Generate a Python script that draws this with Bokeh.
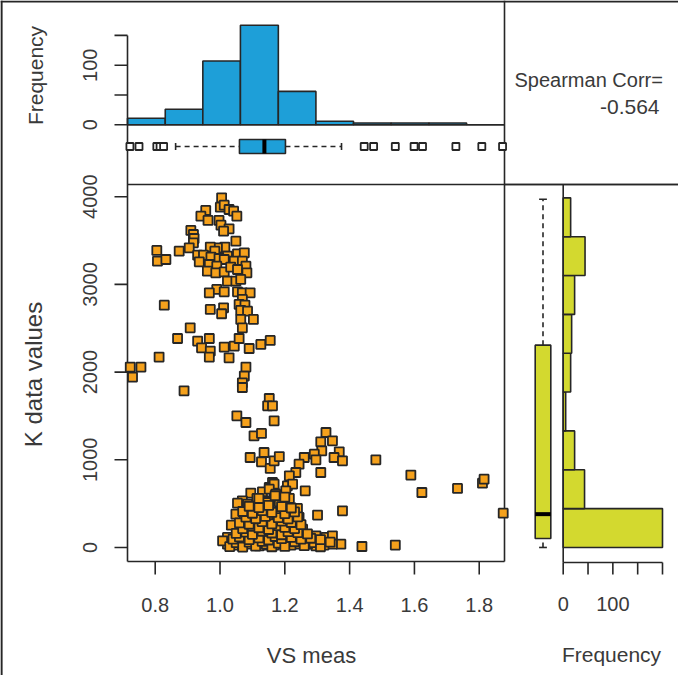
import math
from bokeh.plotting import figure
from bokeh.models import Range1d
from bokeh.embed import file_html
from bokeh.resources import INLINE
from bokeh.core.properties import value

# ---------------- data ----------------
# upper cluster of the scatter
vs_upper = [1.005, 1.001, 1.013, 1.028, 1.042, 1.052, 0.956, 0.941, 0.963, 0.997,
            1.003, 1.028, 1.011, 0.910, 0.918, 0.920, 0.918, 0.905, 1.049, 1.015,
            0.992, 0.970, 0.805, 0.807, 0.833, 0.874, 0.931, 0.949, 0.936, 0.984,
            1.023, 1.054, 1.075, 0.972, 0.997, 1.013, 1.044, 1.069, 1.080, 0.967,
            0.990, 0.961, 0.987, 1.013, 1.033, 1.054, 1.083, 1.023, 1.049, 1.064,
            0.990, 0.967, 1.013, 1.054, 1.069, 1.093, 1.069, 1.059, 1.077, 0.828,
            0.970, 1.011, 1.005, 1.064, 1.085, 1.064, 1.103, 1.069, 0.908, 0.869,
            0.931, 0.967, 0.943, 0.970, 0.967, 1.013, 1.044, 1.059, 1.090, 1.126,
            1.155, 1.028, 0.812, 0.723, 0.756, 0.730, 1.080, 1.075, 1.069]
k_upper = [3987, 3881, 3903, 3854, 3835, 3778, 3843, 3778, 3729, 3729,
           3675, 3634, 3607, 3615, 3569, 3523, 3474, 3417, 3493, 3425,
           3417, 3425, 3387, 3265, 3284, 3379, 3333, 3333, 3257, 3379,
           3322, 3349, 3360, 3311, 3295, 3284, 3265, 3265, 3208, 3227,
           3208, 3151, 3132, 3143, 3197, 3170, 3132, 3037, 3037, 3056,
           2942, 2904, 2915, 2915, 2904, 2904, 2828, 2771, 2763, 2763,
           2714, 2733, 2665, 2703, 2695, 2600, 2600, 2505, 2505, 2383,
           2353, 2383, 2277, 2239, 2171, 2285, 2296, 2383, 2269, 2315,
           2361, 2163, 2171, 2057, 2057, 1943, 2057, 1954, 1878]

# middle / rising arm
vs_mid = [1.069, 0.889, 1.152, 1.147, 1.162, 1.052, 1.080, 1.167, 1.105, 1.128,
          1.093, 1.136, 1.128, 1.155, 1.167, 1.327, 1.311, 1.347, 1.314, 1.183,
          1.368, 1.352, 1.378, 1.291, 1.260, 1.296, 1.244, 1.234, 1.311, 1.214,
          1.162, 1.152]
k_mid = [1824, 1786, 1699, 1615, 1615, 1501, 1425, 1444, 1273, 1300,
         1026, 1083, 977, 901, 988, 1311, 1205, 1216, 1102, 1037,
         1091, 1026, 988, 1064, 1026, 999, 950, 855, 855, 817,
         741, 684]

# right tail
vs_tail = [1.481, 1.589, 1.623, 1.733, 1.810, 1.815, 1.874, 1.438, 1.541]
k_tail = [999, 825, 627, 673, 733, 779, 391, 11, 27]

# lower dense cluster
vs_lower = [1.131, 1.095, 1.069, 1.054, 1.114, 1.136, 1.167, 1.049, 1.075, 1.035,
            1.111, 1.141, 1.167, 1.126, 1.105, 1.147, 1.172, 1.023, 1.023, 1.044,
            1.069, 1.095, 1.121, 1.147, 1.167, 1.080, 1.111, 1.136, 1.157, 1.090,
            1.121, 1.162, 1.008, 1.064, 1.085, 1.121, 1.152,
            1.208, 1.167, 1.224, 1.203, 1.263, 1.152, 1.172, 1.147, 1.183, 1.214,
            1.239, 1.203, 1.219, 1.244, 1.172, 1.301, 1.378, 1.147, 1.193, 1.229,
            1.162, 1.255, 1.142, 1.177, 1.214, 1.265, 1.296, 1.327, 1.347, 1.373,
            1.347, 1.321, 1.296, 1.270, 1.244, 1.219, 1.193, 1.167, 1.143, 1.280,
            1.152, 1.234]
k_lower = [635, 620, 532, 505, 559, 532, 627, 380, 323, 254,
           418, 437, 399, 323, 266, 247, 266, 114, 38, 27,
           19, 38, 19, 27, 38, 114, 133, 152, 171, 209,
           209, 323, 76, 209, 494, 494, 494,
           703, 722, 722, 646, 646, 665, 608, 513, 521, 559,
           445, 380, 399, 342, 380, 369, 418, 323, 266, 285,
           228, 209, 171, 152, 133, 141, 133, 114, 133, 38,
           38, 27, 19, 38, 38, 27, 38, 27, 38, 76,
           95, 76]

vs_dense = [1.03, 1.05, 1.07, 1.09, 1.11, 1.13, 1.16, 1.18, 1.20, 1.23, 1.26, 1.29, 1.31, 1.34,
            1.04, 1.06, 1.09, 1.12, 1.15, 1.17, 1.19, 1.22, 1.25, 1.28, 1.31,
            1.05, 1.08, 1.10, 1.13, 1.16, 1.19, 1.21, 1.24, 1.27,
            1.07, 1.10, 1.12, 1.15, 1.18, 1.20, 1.23,
            1.06, 1.09, 1.13, 1.16, 1.19, 1.22, 1.25,
            1.08, 1.11, 1.14, 1.18, 1.21, 1.24,
            1.07, 1.10, 1.13, 1.16, 1.20, 1.23,
            1.09, 1.12, 1.15, 1.19, 1.22,
            1.12, 1.17, 1.20]
k_dense = [10, 55, 5, 60, 15, 70, 8, 50, 12, 65, 20, 55, 8, 60,
           95, 120, 90, 110, 85, 125, 100, 115, 95, 105, 90,
           160, 175, 150, 185, 165, 145, 180, 170, 155,
           215, 240, 225, 205, 250, 230, 215,
           280, 265, 295, 270, 300, 285, 260,
           345, 330, 355, 340, 325, 350,
           410, 390, 420, 400, 385, 405,
           470, 455, 480, 465, 450,
           560, 590, 575]

# histogram of VS meas (top)
vs_hist_edges = [0.7145, 0.831, 0.947, 1.063, 1.180, 1.296, 1.412, 1.528, 1.645, 1.761, 1.878]
vs_hist_counts = [11, 26, 107, 167, 56, 6, 3, 3, 3, 0]

# histogram of K (right)
k_hist_edges = [0, 443, 886, 1329, 1772, 2215, 2658, 3101, 3544, 3987]
k_hist_counts = [200, 43, 23, 5, 15, 17, 23, 44, 15]

# boxplot stats
vs_box = {"lo": 0.863, "q1": 1.060, "med": 1.137, "q3": 1.202, "hi": 1.375}
vs_outliers = [0.722, 0.750, 0.805, 0.815, 0.826, 1.445, 1.474, 1.541,
               1.599, 1.625, 1.728, 1.808, 1.872]
k_box = {"lo": 0, "q1": 103, "med": 380, "q3": 2307, "hi": 3971}

x_ticks = [0.8, 1.0, 1.2, 1.4, 1.6, 1.8]
x_tick_labels = ["0.8", "1.0", "1.2", "1.4", "1.6", "1.8"]
y_ticks = [0, 1000, 2000, 3000, 4000]
y_tick_labels = ["0", "1000", "2000", "3000", "4000"]
top_freq_ticks = [0, 50, 100, 150]
top_freq_label_at = [0, 100]
right_freq_ticks = [0, 50, 100, 150, 200]
right_freq_label_at = [0, 100]
spearman = -0.564

# ---------------- styles ----------------
LINE = "#262626"
TXT = "#3a3a3a"
BLUE = "#1e9fd8"
YELLOW = "#d3d92f"
ORANGE = "#f5a11c"
FONT = value("Liberation Sans")
LW = 1.6

W, H = 678, 675
X0, Y0 = 8, 8


def lin_range(va, pa, vb, pb, p_start, p_end):
    s = (vb - va) / (pb - pa)
    return Range1d(start=va + (p_start - pa) * s, end=va + (p_end - pa) * s)


def xr(va, pa, vb, pb):
    return lin_range(va, pa, vb, pb, X0, X0 + W)


def yr(va, pa, vb, pb):
    return lin_range(va, pa, vb, pb, Y0 + H, Y0)


p = figure(width=W, height=H, x_range=Range1d(X0, X0 + W), y_range=Range1d(Y0 + H, Y0),
           x_axis_type=None, y_axis_type=None, output_backend="svg",
           toolbar_location=None, min_border=0)
p.outline_line_color = None
p.background_fill_color = "white"
p.border_fill_color = "white"

# panel geometry (pixels)
SC_L, SC_R, SC_T, SC_B = 135, 512, 192, 569
VS_LIM = (0.7145, 1.878)
K_LIM = (-160, 4139)

p.extra_x_ranges = {
    "vs": xr(VS_LIM[0], SC_L, VS_LIM[1], SC_R),
    "rf": xr(0, 570.7, 200, 670),
    "rb": xr(0.6, 542.7, 1.4, 558.3),
}
p.extra_y_ranges = {
    "k": yr(K_LIM[0], SC_B, K_LIM[1], SC_T),
    "tf": yr(0, 132.3, 100, 72.7),
    "tb": yr(0.6, 161, 1.4, 147),
}

# ---------------- frame lines ----------------
p.segment(x0=[9, 8], y0=[8, 9], x1=[9, 686], y1=[683, 9], line_color=LINE, line_width=2.2)
p.segment(x0=[SC_L, SC_L, SC_L, SC_R, 512, 570.7, SC_L],
          y0=[SC_T, SC_B, 132.3, 8, SC_T, SC_T, 132.3],
          x1=[686, SC_R, SC_L, SC_R, 686, 570.7, SC_R],
          y1=[SC_T, SC_B, SC_B, SC_B, SC_T, 570, 132.3],
          line_color=LINE, line_width=LW)

# ---------------- top histogram ----------------
p.quad(left=vs_hist_edges[:-1], right=vs_hist_edges[1:], bottom=0, top=vs_hist_counts,
       x_range_name="vs", y_range_name="tf", fill_color=BLUE, line_color=LINE, line_width=LW)
p.segment(x0=[SC_L], x1=[SC_L], y0=[0], y1=[150], y_range_name="tf",
          line_color=LINE, line_width=LW)
p.segment(x0=122, x1=SC_L, y0=top_freq_ticks, y1=top_freq_ticks, y_range_name="tf",
          line_color=LINE, line_width=LW)
p.text(x=97, y=top_freq_label_at, text=[str(v) for v in top_freq_label_at], y_range_name="tf",
       angle=math.pi / 2, text_align="center", text_baseline="middle",
       text_font=FONT, text_font_size=value("20px"), text_color=TXT)
p.text(x=[43], y=[83], text=["Frequency"], angle=math.pi / 2, text_align="center",
       text_baseline="middle", text_font=FONT, text_font_size=value("21px"), text_color=TXT)

# ---------------- top boxplot ----------------
p.segment(x0=[vs_box["lo"], vs_box["q3"]], x1=[vs_box["q1"], vs_box["hi"]], y0=1, y1=1,
          x_range_name="vs", y_range_name="tb", line_color=LINE, line_width=LW, line_dash="5 4")
p.segment(x0=[vs_box["lo"], vs_box["hi"]], x1=[vs_box["lo"], vs_box["hi"]], y0=0.8, y1=1.2,
          x_range_name="vs", y_range_name="tb", line_color=LINE, line_width=LW)
p.quad(left=[vs_box["q1"]], right=[vs_box["q3"]], bottom=0.6, top=1.4,
       x_range_name="vs", y_range_name="tb", fill_color=BLUE, line_color=LINE, line_width=LW)
p.segment(x0=[vs_box["med"]], x1=[vs_box["med"]], y0=0.6, y1=1.4,
          x_range_name="vs", y_range_name="tb", line_color="black", line_width=4)
p.scatter(x=vs_outliers, y=[1] * len(vs_outliers), marker="square", size=7,
          x_range_name="vs", y_range_name="tb", fill_color="white", line_color=LINE, line_width=1.8)

# ---------------- scatter ----------------
for xs, ys in [(vs_upper, k_upper), (vs_mid, k_mid), (vs_tail, k_tail),
               (vs_lower, k_lower), (vs_dense, k_dense)]:
    p.scatter(x=xs, y=ys, marker="square", size=9, x_range_name="vs", y_range_name="k",
              fill_color=ORANGE, line_color=LINE, line_width=1.8)

p.segment(x0=x_ticks, x1=x_ticks, y0=SC_B, y1=SC_B + 13, x_range_name="vs",
          line_color=LINE, line_width=LW)
p.text(x=x_ticks, y=612, text=x_tick_labels, x_range_name="vs", text_align="center",
       text_baseline="middle", text_font=FONT, text_font_size=value("20px"), text_color=TXT)
p.segment(x0=122, x1=SC_L, y0=y_ticks, y1=y_ticks, y_range_name="k",
          line_color=LINE, line_width=LW)
p.text(x=97, y=y_ticks, text=y_tick_labels, y_range_name="k", angle=math.pi / 2,
       text_align="center", text_baseline="middle", text_font=FONT,
       text_font_size=value("20px"), text_color=TXT)
p.text(x=[41], y=[382], text=["K data values"], angle=math.pi / 2, text_align="center",
       text_baseline="middle", text_font=FONT, text_font_size=value("24px"), text_color=TXT)
p.text(x=[319], y=[663], text=["VS meas"], text_align="center", text_baseline="middle",
       text_font=FONT, text_font_size=value("22px"), text_color=TXT)

# ---------------- right boxplot ----------------
p.segment(x0=1, x1=1, y0=[k_box["lo"], k_box["q3"]], y1=[k_box["q1"], k_box["hi"]],
          x_range_name="rb", y_range_name="k", line_color=LINE, line_width=LW, line_dash="5 4")
p.segment(x0=0.8, x1=1.2, y0=[k_box["lo"], k_box["hi"]], y1=[k_box["lo"], k_box["hi"]],
          x_range_name="rb", y_range_name="k", line_color=LINE, line_width=LW)
p.quad(left=0.6, right=1.4, bottom=[k_box["q1"]], top=[k_box["q3"]],
       x_range_name="rb", y_range_name="k", fill_color=YELLOW, line_color=LINE, line_width=LW)
p.segment(x0=0.6, x1=1.4, y0=[k_box["med"]], y1=[k_box["med"]],
          x_range_name="rb", y_range_name="k", line_color="black", line_width=4)

# ---------------- right histogram ----------------
p.quad(left=0, right=k_hist_counts, bottom=k_hist_edges[:-1], top=k_hist_edges[1:],
       x_range_name="rf", y_range_name="k", fill_color=YELLOW, line_color=LINE, line_width=LW)
p.segment(x0=[0], x1=[200], y0=570, y1=570, x_range_name="rf", line_color=LINE, line_width=LW)
p.segment(x0=right_freq_ticks, x1=right_freq_ticks, y0=570, y1=582, x_range_name="rf",
          line_color=LINE, line_width=LW)
p.text(x=right_freq_label_at, y=611, text=[str(v) for v in right_freq_label_at],
       x_range_name="rf", text_align="center", text_baseline="middle", text_font=FONT,
       text_font_size=value("20px"), text_color=TXT)
p.text(x=[619], y=[662], text=["Frequency"], text_align="center", text_baseline="middle",
       text_font=FONT, text_font_size=value("21px"), text_color=TXT)

# ---------------- correlation text ----------------
p.text(x=[522], y=[87], text=["Spearman Corr="], text_align="left", text_baseline="middle",
       text_font=FONT, text_font_size=value("20px"), text_color=TXT)
p.text(x=[667], y=[114], text=[f"{spearman:.3f}"], text_align="right", text_baseline="middle",
       text_font=FONT, text_font_size=value("21px"), text_color=TXT)

open("out.html", "w").write(file_html(p, INLINE))
